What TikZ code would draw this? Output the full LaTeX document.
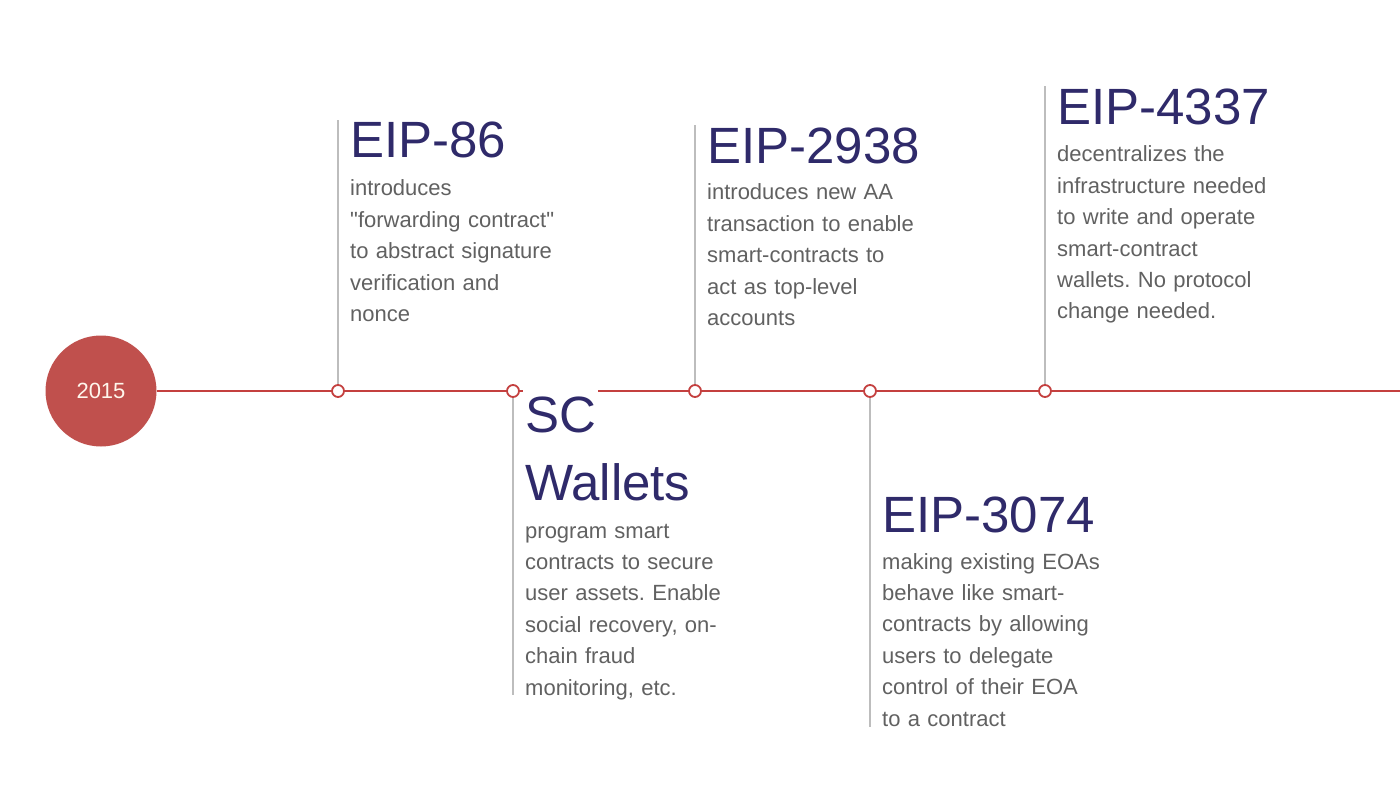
\documentclass[tikz,border=0pt]{standalone}
\usepackage{fontspec}
\setmainfont{Liberation Sans}
\newfontfamily\qfont{Liberation Sans}
\definecolor{tlred}{HTML}{C0504D}
\definecolor{linered}{HTML}{C4403F}
\definecolor{ttl}{HTML}{2F2A6A}
\definecolor{bodyc}{HTML}{616161}
\definecolor{vgray}{HTML}{BDBDBD}
\definecolor{cream}{HTML}{FFF6EC}
\begin{document}
\frenchspacing
\begin{tikzpicture}[x=1pt,y=-1pt,
  title/.style={anchor=base west, inner sep=0pt, text=ttl, font=\fontsize{51}{60}\selectfont},
  bodytext/.style={anchor=base west, inner sep=0pt, text=bodyc, align=left, text width=260pt, font=\fontsize{22}{31.4}\selectfont},
  marker/.style={circle, draw=linered, line width=1.8pt, fill=white, minimum size=12pt, inner sep=0pt},
  stem/.style={draw=vgray, line width=2pt},
  tline/.style={draw=linered, line width=2pt}]
\fill[white] (0,0) rectangle (1400,786);
\useasboundingbox (0,0) rectangle (1400,786);
% year circle
\node[circle, fill=tlred, minimum size=111pt, inner sep=0pt, text=cream, font=\fontsize{22}{26}\selectfont] (y2015) at (101,391) {2015};
% markers
\node[marker] (m1) at (338,391) {};
\node[marker] (m2) at (513,391) {};
\node[marker] (m3) at (695,391) {};
\node[marker] (m4) at (870,391) {};
\node[marker] (m5) at (1045,391) {};
\coordinate (tlend) at (1400,391);
\coordinate (s1) at (338,120);
\coordinate (s2) at (513,695);
\coordinate (s3) at (695,125);
\coordinate (s4) at (870,727);
\coordinate (s5) at (1045,86);
% timeline and stems
\draw[tline] (y2015) -- (m1) -- (m2) -- (m3) -- (m4) -- (m5) -- (tlend);
\draw[stem] (m1.north) -- (s1);
\draw[stem] (m2.south) -- (s2);
\draw[stem] (m3.north) -- (s3);
\draw[stem] (m4.south) -- (s4);
\draw[stem] (m5.north) -- (s5);
% EIP-86
\node[title] (t86) at (350,158) {EIP-86};
\node[bodytext] (b86) at (350,196) {introduces\\{\qfont"}forwarding contract{\qfont"}\\to abstract signature\\verification and\\nonce};
% SC Wallets
\node[title, fill=white, inner xsep=2pt, inner ysep=7pt, anchor=base west] (tsc) at (523,432) {SC};
\node[title] (tsc2) at (525,500) {Wallets};
\node[bodytext] (bsc) at (525,538) {program smart\\contracts to secure\\user assets. Enable\\social recovery, on-\\chain fraud\\monitoring, etc.};
% EIP-2938
\node[title] (t2938) at (707,164) {EIP-2938};
\node[bodytext] (b2938) at (707,200) {introduces new AA\\transaction to enable\\smart-contracts to\\act as top-level\\accounts};
% EIP-3074
\node[title] (t3074) at (882,532) {EIP-3074};
\node[bodytext] (b3074) at (882,569) {making existing EOAs\\behave like smart-\\contracts by allowing\\users to delegate\\control of their EOA\\to a contract};
% EIP-4337
\node[title] (t4337) at (1057,125) {EIP-4337};
\node[bodytext] (b4337) at (1057,162) {decentralizes the\\infrastructure needed\\to write and operate\\smart-contract\\wallets. No protocol\\change needed.};
\end{tikzpicture}
\end{document}
